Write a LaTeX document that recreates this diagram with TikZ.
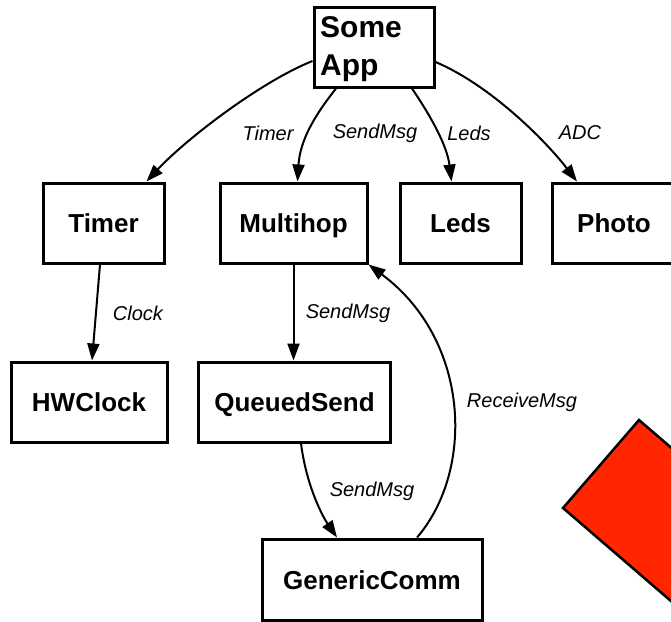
\documentclass[tikz,border=0pt]{standalone}
\usepackage{fontspec}
\setmainfont{Liberation Sans}
\usetikzlibrary{arrows.meta}
\definecolor{diared}{RGB}{255,38,0}
\tikzset{
  comp/.style={draw, line width=3pt, minimum height=80pt, inner sep=0pt,
    text height=19pt, text depth=0pt,
    font=\bfseries\fontsize{26}{30}\selectfont},
  conn/.style={line width=2pt, -{Triangle[length=17pt,width=12pt]}},
  lbl/.style={font=\itshape\fontsize{20}{23}\selectfont, inner sep=0pt}
}
\begin{document}
\begin{tikzpicture}[x=1pt,y=-1pt]
\useasboundingbox (0,0) rectangle (671,621);
\begin{scope}
\clip (0,0) rectangle (671,621);
% red rotated square
\filldraw[fill=diared, draw=black, line width=2.5pt]
  (639,420) -- (563,508) -- (715,639) -- (791,551) -- cycle;
% nodes
\node[comp, minimum width=120pt] (app) at (374,47) {};
\node[anchor=base west, inner sep=0pt, align=left,
  font=\bfseries\fontsize{30}{38}\selectfont] (apptext) at (320,75) {Some\\App};
\node[comp, minimum width=121pt] (timer) at (103.5,223) {Timer};
\node[comp, minimum width=147pt] (multihop) at (293.5,223) {Multihop};
\node[comp, minimum width=121pt] (leds) at (460.5,223) {Leds};
\node[comp, minimum width=124pt] (photo) at (614,223) {Photo};
\node[comp, minimum width=156pt] (hwclock) at (89,402) {HWClock};
\node[comp, minimum width=192pt] (queued) at (294.5,402) {QueuedSend};
\node[comp, minimum width=220pt, minimum height=81pt] (generic) at (372,579.5) {GenericComm};
% connectors
\draw[conn] ([yshift=-14pt]app.west) .. controls (260,82) and (185,140) .. ([xshift=43pt]timer.north);
\draw[conn] ([xshift=-38pt]app.south) .. controls (315,115) and (300,140) .. ([xshift=4pt]multihop.north);
\draw[conn] ([xshift=38pt]app.south) .. controls (430,115) and (447,145) .. ([xshift=-9pt]leds.north);
\draw[conn] ([yshift=-15pt]app.east) .. controls (490,85) and (545,140) .. ([xshift=-37pt]photo.north);
\draw[conn] ([xshift=-3.5pt]timer.south) -- ([xshift=3pt]hwclock.north);
\draw[conn] (multihop.south) -- (multihop.south |- queued.north);
\draw[conn] ([xshift=6.5pt]queued.south) .. controls (307,490) and (325,520) .. ([xshift=-35pt]generic.north);
\draw[conn] ([xshift=45pt]generic.north) .. controls (475,470) and (470,340) .. (multihop.south east);
% labels
\node[lbl] (l1) at (268,133) {Timer};
\node[lbl] (l2) at (375,133) {SendMsg};
\node[lbl] (l3) at (469,133) {Leds};
\node[lbl] (l4) at (580,133) {ADC};
\node[lbl] (l5) at (138,313) {Clock};
\node[lbl] (l6) at (348,313) {SendMsg};
\node[lbl] (l7) at (522,402) {ReceiveMsg};
\node[lbl] (l8) at (372,491) {SendMsg};
\end{scope}
\end{tikzpicture}
\end{document}
